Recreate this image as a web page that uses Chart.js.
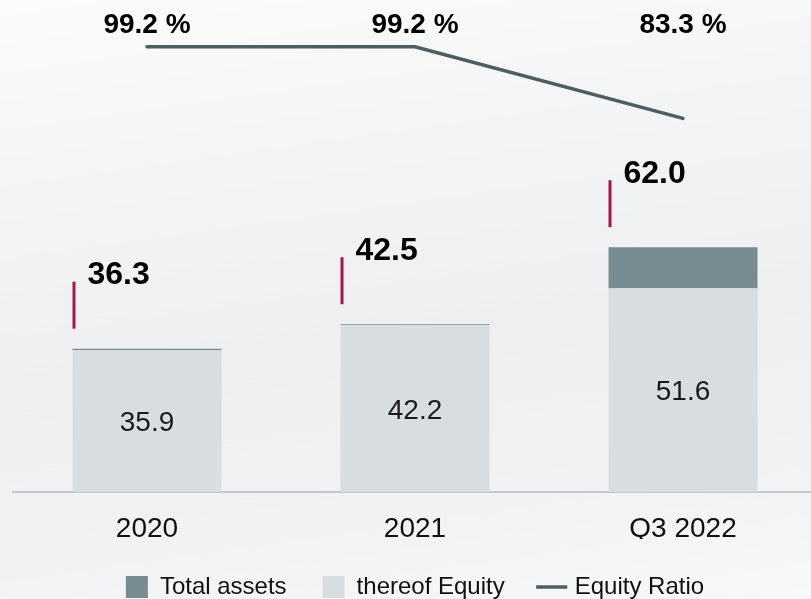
<!DOCTYPE html>
<html>
<head>
<meta charset="utf-8">
<script src="https://cdn.jsdelivr.net/npm/chart.js@4.4.0/dist/chart.umd.min.js"></script>
<style>
  html, body { margin: 0; padding: 0; width: 811px; height: 599px; overflow: hidden; }
  body { background: linear-gradient(172deg, #fbfbfb 0%, #f3f4f5 28%, #edeff0 55%, #f1f2f3 80%, #f7f8f8 100%); }
  canvas { display: block; }
</style>
</head>
<body>
<canvas id="myChart" width="817" height="609"></canvas>
<script>
// values (EUR m / %)
const labels = ['2020', '2021', 'Q3 2022'];
const totalAssets = [36.3, 42.5, 62.0];
const equity = [35.9, 42.2, 51.6];
const equityRatio = [99.2, 99.2, 83.3];
const ratioLabels = ['99.2 %', '99.2 %', '83.3 %'];

// top part of the stacked bar = total assets minus equity
const assetsAboveEquity = totalAssets.map((t, i) => +(t - equity[i]).toFixed(1));

const FONT = '"Liberation Sans", Arial, sans-serif';

function textAtCapCenter(ctx, text, x, cy, size) {
    // alphabetic baseline so the cap height is centred on cy
    ctx.fillText(text, x, cy + 0.358 * size);
}

const valueLabels = {
    id: 'valueLabels',
    afterDatasetsDraw(chart) {
        const ctx = chart.ctx;
        const xs = chart.scales.x;
        const ys = chart.scales.y;
        const bars = chart.getDatasetMeta(1).data;
        ctx.save();
        ctx.textBaseline = 'alphabetic';
        labels.forEach((lab, i) => {
            const cx = xs.getPixelForValue(i);
            const top = ys.getPixelForValue(totalAssets[i]);
            const eqTop = ys.getPixelForValue(equity[i]);
            const base = ys.getPixelForValue(0);
            const left = cx - bars[i].width / 2;

            // red marker next to the total
            ctx.strokeStyle = '#a5164a';
            ctx.lineWidth = 3;
            ctx.beginPath();
            ctx.moveTo(left + 1.5, top - 67);
            ctx.lineTo(left + 1.5, top - 20);
            ctx.stroke();

            // total assets
            ctx.fillStyle = '#000';
            ctx.textAlign = 'left';
            ctx.font = 'bold 32px ' + FONT;
            textAtCapCenter(ctx, totalAssets[i].toFixed(1), left + 15, top - 76, 32);

            // equity inside the bar
            ctx.fillStyle = '#1a1a1a';
            ctx.textAlign = 'center';
            ctx.font = '28px ' + FONT;
            textAtCapCenter(ctx, equity[i].toFixed(1), cx, (eqTop + base) / 2, 28);

            // equity ratio row at the top
            ctx.fillStyle = '#000';
            ctx.font = 'bold 28px ' + FONT;
            textAtCapCenter(ctx, ratioLabels[i], cx, 22.5, 28);
        });
        ctx.restore();
    }
};

const legendOrder = [1, 0, 2];

const ctx = document.getElementById('myChart').getContext('2d');
const myChart = new Chart(ctx, {
    type: 'bar',
    data: {
        labels: labels,
        datasets: [
            {
                label: 'thereof Equity',
                data: equity,
                backgroundColor: '#d8dee0',
                borderWidth: 0,
                pointStyle: 'rect',
                yAxisID: 'y'
            },
            {
                label: 'Total assets',
                data: assetsAboveEquity,
                backgroundColor: '#788b90',
                borderWidth: 0,
                pointStyle: 'rect',
                yAxisID: 'y'
            },
            {
                type: 'line',
                label: 'Equity Ratio',
                data: equityRatio,
                borderColor: '#4e5d62',
                backgroundColor: '#4e5d62',
                borderWidth: 3.5,
                borderCapStyle: 'round',
                pointRadius: 0,
                pointStyle: 'line',
                tension: 0,
                fill: false,
                yAxisID: 'y1'
            }
        ]
    },
    options: {
        responsive: false,
        animation: false,
        layout: { padding: { left: 13, right: 0, top: 0, bottom: 0 } },
        datasets: {
            bar: { barPercentage: 0.556, categoryPercentage: 1.0 }
        },
        scales: {
            x: {
                stacked: true,
                grid: { display: false },
                border: { display: true, color: '#c4c8ca', width: 2 },
                ticks: {
                    color: '#111',
                    padding: 12,
                    font: { family: FONT, size: 28 }
                },
                afterFit(scale) { scale.height = 47; }
            },
            y: {
                stacked: true,
                display: false,
                min: 0,
                max: 124.6
            },
            y1: {
                display: false,
                position: 'right',
                min: 0.3,
                max: 109.6
            }
        },
        plugins: {
            tooltip: { enabled: false },
            legend: {
                position: 'bottom',
                labels: {
                    usePointStyle: true,
                    boxWidth: 22,
                    boxHeight: 22,
                    padding: 36,
                    color: '#111',
                    font: { family: FONT, size: 24 },
                    sort: (a, b) => legendOrder.indexOf(a.datasetIndex) - legendOrder.indexOf(b.datasetIndex)
                }
            }
        }
    },
    plugins: [valueLabels]
});
</script>
</body>
</html>
